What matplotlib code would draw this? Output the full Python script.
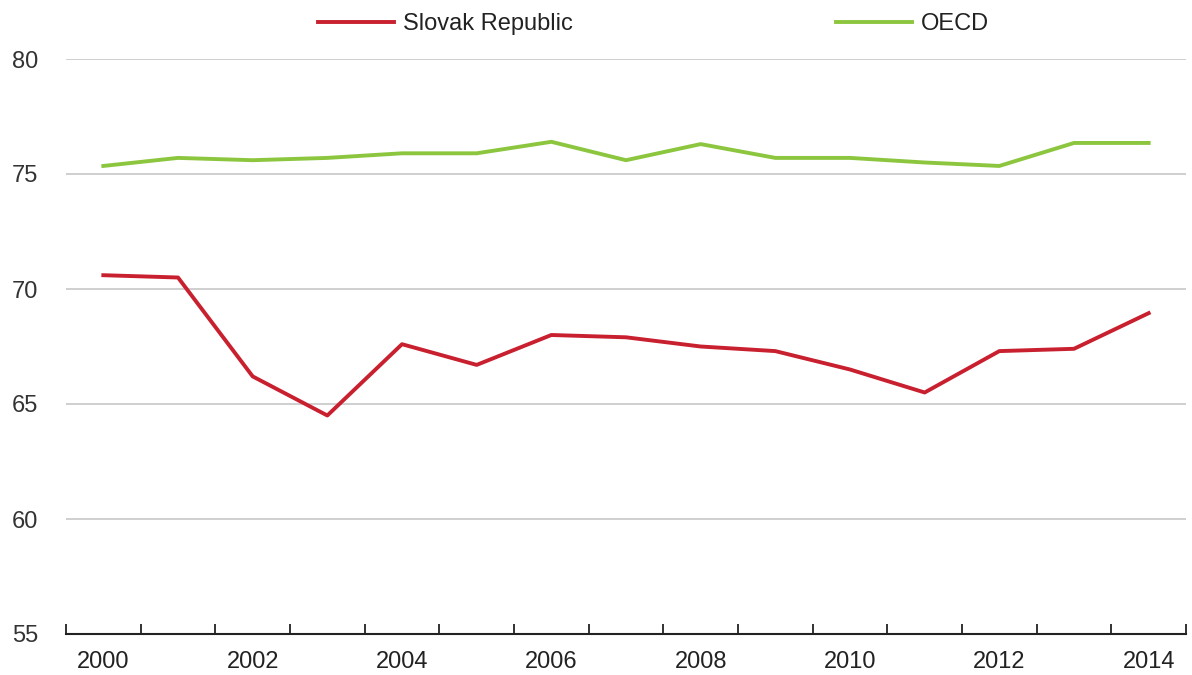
import matplotlib
matplotlib.use("Agg")
import matplotlib.pyplot as plt

years = [2000, 2001, 2002, 2003, 2004, 2005, 2006, 2007, 2008, 2009, 2010, 2011, 2012, 2013, 2014]
slovak = [70.6, 70.5, 66.2, 64.5, 67.6, 66.7, 68.0, 67.9, 67.5, 67.3, 66.5, 65.5, 67.3, 67.4, 68.95]
oecd = [75.35, 75.7, 75.6, 75.7, 75.9, 75.9, 76.4, 75.6, 76.3, 75.7, 75.7, 75.5, 75.35, 76.35, 76.35]
xtick_labels = ["2000", "", "2002", "", "2004", "", "2006", "", "2008", "", "2010", "", "2012", "", "2014"]
yticks = [55, 60, 65, 70, 75, 80]
series_names = ["Slovak Republic", "OECD"]
colors = ['#C8202F', '#8CC63F']

plt.rcParams['font.family'] = ['Liberation Sans', 'DejaVu Sans']

fig = plt.figure(figsize=(11.92, 6.75), dpi=100)
ax = fig.add_axes([66/1192, 41/675, (1186-66)/1192, (634-59)/675])

x = list(range(len(years)))
ax.plot(x, slovak, color=colors[0], lw=2.8, label=series_names[0])
ax.plot(x, oecd, color=colors[1], lw=2.8, label=series_names[1])

ax.set_xlim(-0.5, len(years) - 0.5)
ax.set_ylim(55, 80)
ax.set_yticks(yticks)
ax.set_yticklabels([str(v) for v in yticks])
for v in yticks[1:]:
    ax.axhline(v, color='#CFCFCF', lw=1.4, zorder=0)

ax.set_xticks(x)
ax.set_xticklabels(xtick_labels)
ax.set_xticks([i - 0.5 for i in range(len(years) + 1)], minor=True)
ax.tick_params(axis='x', which='major', length=0, pad=12, labelsize=17, colors='#222222')
ax.tick_params(axis='x', which='minor', length=7, width=1.3, direction='in', color='#222222')
ax.tick_params(axis='y', length=0, pad=20, labelsize=17, colors='#333333')

for s in ['top', 'right', 'left']:
    ax.spines[s].set_visible(False)
ax.spines['bottom'].set_color('#222222')
ax.spines['bottom'].set_linewidth(1.5)

handles = ax.get_lines()
for h, xpx in zip(handles, [318, 836]):
    leg = fig.legend([h], [h.get_label()], loc='center left', bbox_to_anchor=(xpx/1192, 1 - 24/675),
                     frameon=False, fontsize=17, handlelength=3.2, handletextpad=0.4,
                     borderaxespad=0, borderpad=0)
    for t in leg.get_texts():
        t.set_color('#222222')

fig.savefig('out.png', dpi=100)
